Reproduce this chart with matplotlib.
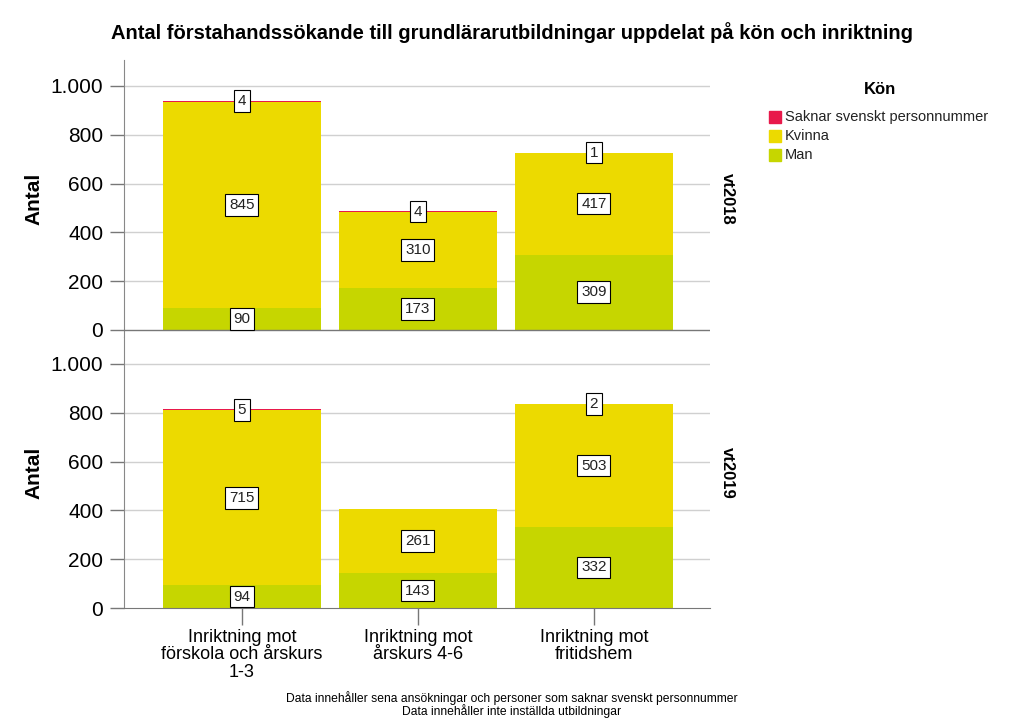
import matplotlib
matplotlib.use('Agg')
import matplotlib.pyplot as plt
import numpy as np

plt.rcParams['font.family'] = ['Liberation Sans', 'DejaVu Sans']

# data
kategorier = ['Inriktning mot\nförskola och årskurs\n1-3', 'Inriktning mot\nårskurs 4-6', 'Inriktning mot\nfritidshem']
terminer = ['vt2018', 'vt2019']
man = [[90, 173, 309], [94, 143, 332]]
kvinna = [[845, 310, 417], [715, 261, 503]]
saknar = [[4, 4, 1], [5, 0, 2]]
y_ticks = [0, 200, 400, 600, 800, 1000]
y_ticklabels = ['0', '200', '400', '600', '800', '1.000']

col_man = '#c6d600'
col_kvinna = '#ecda00'
col_saknar = '#e8194b'

W, H = 1023, 728
fig = plt.figure(figsize=(W / 100, H / 100), dpi=100)

def px_axes(left, top, right, bottom):
    return fig.add_axes([left / W, 1 - bottom / H, (right - left) / W, (bottom - top) / H])

ax_top = px_axes(124, 60, 710, 337)
ax_bot = px_axes(124, 337, 710, 608)
ax_top.set_ylim(-28.7, 1106)
ax_bot.set_ylim(0, 1110)

x = np.arange(len(kategorier))
box = dict(boxstyle='square,pad=0.25', fc='white', ec='black', lw=0.8)

for i, ax in enumerate([ax_top, ax_bot]):
    m = np.array(man[i])
    k = np.array(kvinna[i])
    s = np.array(saknar[i])
    ax.bar(x, m, width=0.9, color=col_man, lw=0, zorder=2)
    ax.bar(x, k, width=0.9, bottom=m, color=col_kvinna, lw=0, zorder=2)
    ax.bar(x, s, width=0.9, bottom=m + k, color=col_saknar, lw=0, zorder=2)
    for j in range(len(x)):
        ax.text(x[j], m[j] / 2, str(m[j]), ha='center', va='center', fontsize=11, color='#222222', bbox=box, zorder=5)
        ax.text(x[j], m[j] + k[j] / 2, str(k[j]), ha='center', va='center', fontsize=11, color='#222222', bbox=box, zorder=5)
        if s[j] > 0:
            ax.text(x[j], m[j] + k[j] + s[j] / 2, str(s[j]), ha='center', va='center', fontsize=11, color='#222222',
                    bbox=box, zorder=5)
    ax.set_xlim(-0.67, 2.66)
    ax.set_yticks(y_ticks)
    ax.set_yticklabels(y_ticklabels, fontsize=15)
    for yv in y_ticks[1:]:
        ax.axhline(yv, color='#d0d0d0', lw=1, zorder=1)
    for side in ['top', 'right']:
        ax.spines[side].set_visible(False)
    ax.spines['left'].set_color('#888888')
    ax.spines['bottom'].set_color('#777777')
    ax.tick_params(axis='y', length=10, width=1, color='#777777', pad=5)
    ax.set_ylabel('Antal', fontsize=15, fontweight='bold', labelpad=5)
    ax.text(1.03, 0.5, terminer[i], transform=ax.transAxes, rotation=270, ha='center', va='center',
            fontsize=12, fontweight='bold')

ax_top.spines['bottom'].set_visible(False)
ax_top.axhline(0, color='#777777', lw=1, zorder=3)
ax_top.set_xticks([])
ax_bot.set_xticks(x)
ax_bot.set_xticklabels(kategorier, fontsize=13, linespacing=1.05)
ax_bot.tick_params(axis='x', length=12, width=1, color='#777777', pad=3)

fig.text(512 / W, 1 - 33 / H, 'Antal förstahandssökande till grundlärarutbildningar uppdelat på kön och inriktning',
         ha='center', va='center', fontsize=14.5, fontweight='bold')

fig.text(512 / W, 1 - 698 / H, 'Data innehåller sena ansökningar och personer som saknar svenskt personnummer',
         ha='center', va='center', fontsize=8.7)
fig.text(512 / W, 1 - 711 / H, 'Data innehåller inte inställda utbildningar',
         ha='center', va='center', fontsize=8.7)

# legend
fig.text(880 / W, 1 - 89 / H, 'Kön', ha='center', va='center', fontsize=12, fontweight='bold')
leg_items = [('Saknar svenskt personnummer', col_saknar), ('Kvinna', col_kvinna), ('Man', col_man)]
for n, (lab, c) in enumerate(leg_items):
    yc = 117 + n * 19
    fig.patches.append(plt.Rectangle((769 / W, 1 - (yc + 6) / H), 12 / W, 12 / H, transform=fig.transFigure,
                                     color=c, figure=fig))
    fig.text(785 / W, 1 - yc / H, lab, ha='left', va='center', fontsize=10.5, color='#222222')

fig.savefig('out.png', dpi=100)
